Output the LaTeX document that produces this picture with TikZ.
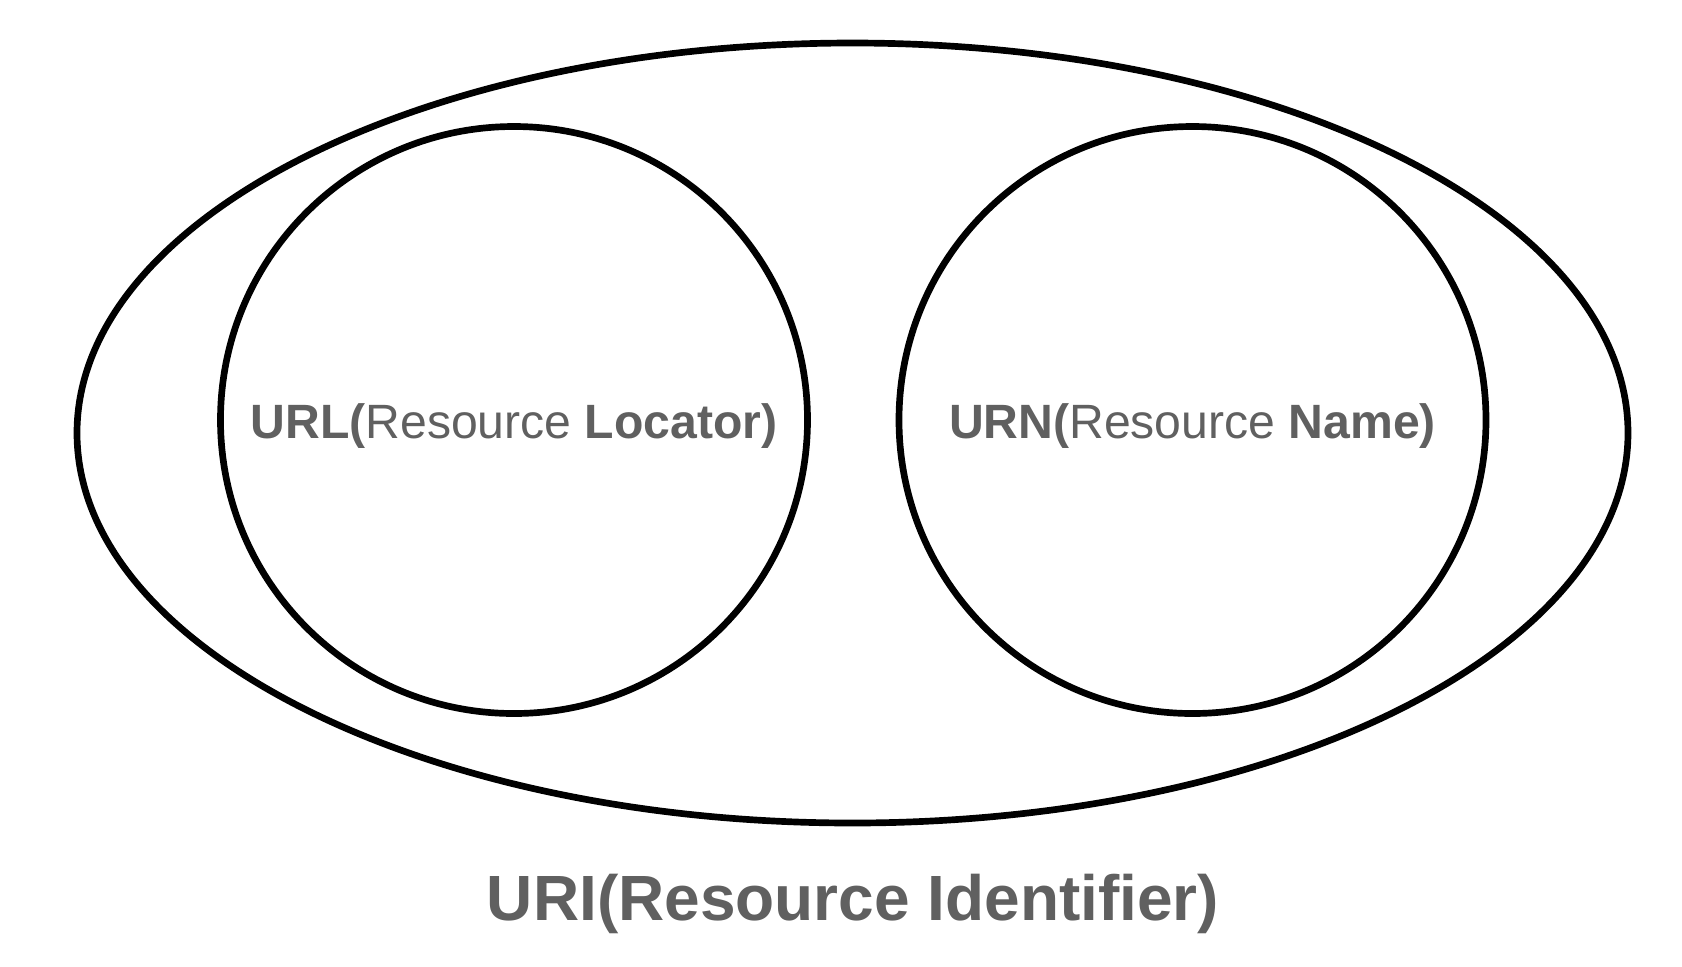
\documentclass[tikz,border=0pt]{standalone}
\usepackage{fontspec}
\setmainfont{Liberation Sans}
\usetikzlibrary{shapes.geometric}
\definecolor{labelgray}{RGB}{96,96,96}
\begin{document}
\begin{tikzpicture}[
  set/.style={draw=black, line width=1.9pt, inner sep=0pt},
  setlabel/.style={text=labelgray, font=\fontsize{13.7}{16}\selectfont}]
\useasboundingbox (0,0) rectangle (16.82,-9.66);

\node[set, ellipse, minimum width=15.51cm, minimum height=7.80cm] (uri) at (8.525,-4.33) {};

\node[set, circle, minimum size=5.87cm] (url) at (5.14,-4.20) {};
\node[set, circle, minimum size=5.87cm] (urn) at (11.925,-4.20) {};

\node[setlabel] (urltext) at ([yshift=-0.6mm]url.center) {\textbf{URL(}Resource \textbf{Locator)}};
\node[setlabel] (urntext) at ([yshift=-0.6mm]urn.center) {\textbf{URN(}Resource \textbf{Name)}};

\node[text=labelgray, font=\fontsize{18.2}{22}\selectfont\bfseries, anchor=base] (urilabel) at (8.53,-9.20) {URI(Resource Identifier)};
\end{tikzpicture}
\end{document}
